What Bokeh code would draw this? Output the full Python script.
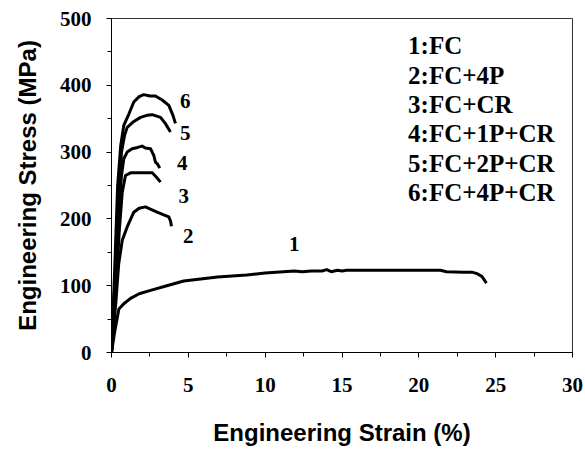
from bokeh.plotting import figure
from bokeh.models import Range1d, SingleIntervalTicker
from bokeh.core.properties import value
from bokeh.embed import file_html
from bokeh.resources import INLINE

# Curve data (strain %, stress MPa)
c1_x = [0, 0.2, 0.48, 0.8, 1.24, 1.8, 2.54, 3.6, 4.7, 5.8, 6.9, 8.8, 10, 11.9, 12.4, 13, 13.7, 14.0, 14.3, 14.7, 15.0, 15.3, 17, 19, 21.4, 21.8, 22.9, 23.5, 23.8, 24.1, 24.4]
c1_y = [0, 30, 65, 73, 81, 88, 93, 100, 107, 110, 113, 116, 119, 122, 121, 122, 122, 124, 121, 123, 122, 123, 123, 123, 123, 121, 120, 120, 118, 114, 104]

c2_x = [0, 0.3, 0.47, 0.7, 1.02, 1.45, 1.8, 2.21, 2.6, 2.97, 3.4, 3.73, 3.85, 3.9]
c2_y = [0, 80, 133, 168, 188, 210, 216, 218, 214, 210, 206, 203, 196, 189]

c3_x = [0, 0.3, 0.5, 0.7, 0.91, 1.24, 2.0, 2.65, 2.9, 3.19]
c3_y = [0, 100, 180, 240, 265, 269, 269, 269, 263, 255]

c4_x = [0, 0.25, 0.45, 0.65, 0.8, 1.02, 1.34, 1.7, 1.99, 2.2, 2.54, 2.75, 2.86, 3.0, 3.14]
c4_y = [0, 100, 200, 265, 290, 300, 305, 307, 309, 306, 305, 295, 285, 282, 276]

c5_x = [0, 0.25, 0.45, 0.65, 0.85, 1.02, 1.4, 1.89, 2.3, 2.65, 3.19, 3.5, 3.84]
c5_y = [0, 120, 230, 300, 325, 337, 345, 352, 355, 356, 352, 343, 330]

c6_x = [0, 0.2, 0.4, 0.6, 0.8, 1.13, 1.45, 1.8, 2.1, 2.5, 2.86, 3.3, 3.73, 4.0, 4.16]
c6_y = [0, 120, 250, 310, 340, 357, 375, 383, 386, 384, 384, 378, 370, 355, 343]

# Curve number labels
num_labels = ["1", "2", "3", "4", "5", "6"]
num_x = [11.9, 5.0, 4.7, 4.6, 4.8, 4.8]
num_y = [163, 174, 235, 283, 328, 376]

# Legend entries
legend_texts = ["1:FC", "2:FC+4P", "3:FC+CR", "4:FC+1P+CR", "5:FC+2P+CR", "6:FC+4P+CR"]
legend_x = [19.3] * 6
legend_y = [460, 415, 372, 328, 283, 239]

x_ticks_interval = 5
y_ticks_interval = 100

p = figure(width=585, height=449, output_backend="svg", toolbar_location=None,
           x_range=Range1d(0, 30), y_range=Range1d(0, 500),
           min_border_left=111, min_border_right=13, min_border_top=18, min_border_bottom=97)
p.background_fill_color = "white"
p.border_fill_color = "white"
p.outline_line_color = "#333333"
p.outline_line_width = 1
p.xgrid.grid_line_color = None
p.ygrid.grid_line_color = None

for xs, ys in [(c1_x, c1_y), (c2_x, c2_y), (c3_x, c3_y), (c4_x, c4_y), (c5_x, c5_y), (c6_x, c6_y)]:
    p.line(xs, ys, line_color="black", line_width=3, line_join="round")

p.text(x=num_x, y=num_y, text=num_labels, text_font=value("Liberation Serif"),
       text_font_style="bold", text_font_size="21px", text_align="center",
       text_baseline="middle", text_color="black")

p.text(x=legend_x, y=legend_y, text=legend_texts, text_font=value("Liberation Serif"),
       text_font_style="bold", text_font_size="25px", text_align="left",
       text_baseline="middle", text_color="black")

p.xaxis.ticker = SingleIntervalTicker(interval=x_ticks_interval, num_minor_ticks=2)
p.yaxis.ticker = SingleIntervalTicker(interval=y_ticks_interval, num_minor_ticks=2)

for ax in (p.xaxis, p.yaxis):
    ax.axis_line_color = "black"
    ax.axis_line_width = 1
    ax.major_tick_line_color = "black"
    ax.minor_tick_line_color = "black"
    ax.major_tick_in = 0
    ax.major_tick_out = 5
    ax.minor_tick_in = 0
    ax.minor_tick_out = 4
    ax.major_label_text_font = "Liberation Serif"
    ax.major_label_text_font_style = "bold"
    ax.major_label_text_font_size = "21px"
    ax.major_label_text_color = "black"
    ax.axis_label_text_font = "Liberation Sans"
    ax.axis_label_text_font_style = "bold"
    ax.axis_label_text_font_size = "24px"
    ax.axis_label_text_color = "black"

p.xaxis.axis_label = "Engineering Strain (%)"
p.yaxis.axis_label = "Engineering Stress (MPa)"
p.xaxis.major_label_standoff = 20
p.yaxis.major_label_standoff = 15
p.xaxis.axis_label_standoff = 24
p.yaxis.axis_label_standoff = 16

open("out.html", "w").write(file_html(p, INLINE))
